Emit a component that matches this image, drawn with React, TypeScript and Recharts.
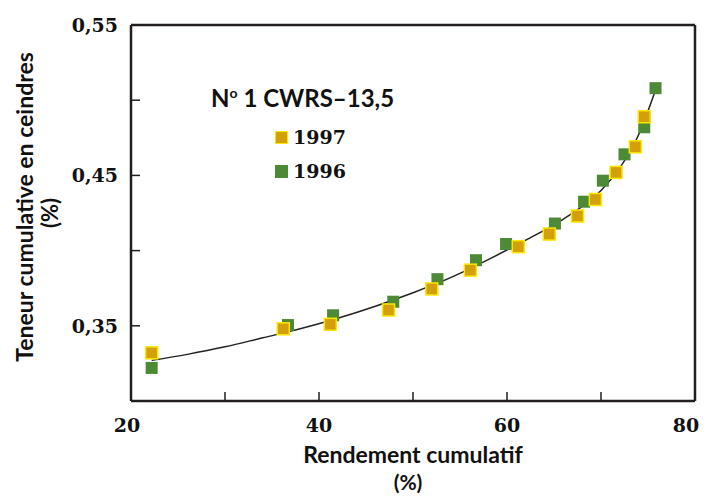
import React from 'react';
import {
  ComposedChart,
  Scatter,
  Line,
  XAxis,
  YAxis,
  Legend,
  Label,
  ReferenceLine
} from 'recharts';

// Rendement cumulatif (%) / teneur cumulative en cendres (%)
const rendement1997 = [22.2, 36.2, 41.2, 47.4, 52.0, 56.1, 61.2, 64.5, 67.5, 69.4, 71.6, 73.65, 74.6];
const teneur1997 = [0.332, 0.348, 0.351, 0.3605, 0.3745, 0.387, 0.4026, 0.411, 0.423, 0.434, 0.452, 0.469, 0.489];

const rendement1996 = [22.2, 36.7, 41.5, 47.9, 52.6, 56.7, 59.9, 65.1, 68.2, 70.2, 72.5, 74.6, 75.8];
const teneur1996 = [0.322, 0.3505, 0.357, 0.366, 0.381, 0.3936, 0.4044, 0.418, 0.4325, 0.4465, 0.464, 0.482, 0.508];

// fitted curve
const curveRendement = [22.2, 26, 30, 34, 38, 42, 46, 50, 54, 58, 62, 66, 70, 72, 74, 75.7];
const curveTeneur = [0.327, 0.331, 0.336, 0.342, 0.348, 0.355, 0.363, 0.372, 0.382, 0.394, 0.407, 0.421, 0.44, 0.455, 0.477, 0.505];

const xTicks = [20, 30, 40, 50, 60, 70, 80];
const xTickLabels = ['20', '', '40', '', '60', '', '80'];
const yTicks = [0.35, 0.4, 0.45, 0.5, 0.55];
const yTickLabels = ['0,35', '', '0,45', '', '0,55'];

const seriesNames = ['1997', '1996'];
const legendTitle = 'CWRS–13,5';

const ORANGE = '#d39f0b';
const ORANGE_EDGE = '#fde600';
const GREEN = '#4d8a35';
const INK = '#231f20';

const toPoints = (xs: number[], ys: number[]) => xs.map((x, i) => ({ x, y: ys[i] }));

const data1997 = toPoints(rendement1997, teneur1997);
const data1996 = toPoints(rendement1996, teneur1996);
const curveData = toPoints(curveRendement, curveTeneur);

const numFont = '"DejaVu Serif", serif';
const titleFont = 'Lato, "Open Sans", sans-serif';

const Square = (fill: string, stroke: string) => (props: any) => {
  const { cx, cy } = props;
  const s = 12;
  return (
    <rect
      x={cx - s / 2}
      y={cy - s / 2}
      width={s}
      height={s}
      fill={fill}
      stroke={stroke}
      strokeWidth={stroke === 'none' ? 0 : 1.5}
    />
  );
};

const XTick = (props: any) => {
  const { x, y, payload, index } = props;
  const label = xTickLabels[index] ?? '';
  // keep the last label inside the page
  const shift = payload.value === 80 ? -9 : payload.value === 20 ? -4 : 0;
  return (
    <g>
      <line x1={x} y1={y} x2={x} y2={y - 9} stroke={INK} strokeWidth={1.5} />
      {label && (
        <text x={x + shift} y={y + 31} textAnchor="middle" fontFamily={numFont} fontWeight="bold" fontSize={19} fill="#111">
          {label}
        </text>
      )}
    </g>
  );
};

const YTick = (props: any) => {
  const { x, y, index } = props;
  const label = yTickLabels[index] ?? '';
  return (
    <g>
      <line x1={x} y1={y} x2={x + 9} y2={y} stroke={INK} strokeWidth={1.5} />
      {label && (
        <text x={x - 13} y={y + 7} textAnchor="end" fontFamily={numFont} fontWeight="bold" fontSize={19} fill="#111">
          {label}
        </text>
      )}
    </g>
  );
};

const XTitle = (props: any) => {
  const { viewBox } = props;
  const cx = viewBox.x + viewBox.width / 2;
  return (
    <g fontFamily={titleFont} fontWeight="bold" fill="#111" textAnchor="middle">
      <text x={cx} y={viewBox.y + 62} fontSize={23}>Rendement cumulatif</text>
      <text x={cx - 5} y={viewBox.y + 89} fontSize={21}>(%)</text>
    </g>
  );
};

const YTitle = (props: any) => {
  const { viewBox } = props;
  const cy = viewBox.y + viewBox.height / 2;
  return (
    <g fontFamily={titleFont} fontWeight="bold" fill="#111" textAnchor="middle">
      <text x={33} y={cy - 6} fontSize={23} transform={`rotate(-90 33 ${cy - 6})`}>Teneur cumulative en ceindres</text>
      <text x={58} y={cy} fontSize={22} transform={`rotate(-90 58 ${cy})`}>(%)</text>
    </g>
  );
};

const LegendBox = () => {
  const colors = [[ORANGE, ORANGE_EDGE], [GREEN, GREEN]];
  return (
    <div style={{ fontWeight: 'bold', color: '#111' }}>
      <div style={{ fontFamily: titleFont, fontSize: 24, lineHeight: '28px', whiteSpace: 'nowrap' }}>
        N<sup style={{ fontSize: 14, verticalAlign: 'top', lineHeight: '18px' }}>o</sup> 1 {legendTitle}
      </div>
      {seriesNames.map((name, i) => (
        <div key={name} style={{ display: 'flex', alignItems: 'center', marginLeft: 64, marginTop: i === 0 ? 11 : 6, height: 28 }}>
          <span
            style={{
              display: 'inline-block',
              width: 11,
              height: 11,
              background: colors[i][0],
              border: `1.5px solid ${colors[i][1]}`,
              marginRight: 5
            }}
          />
          <span style={{ fontFamily: numFont, fontSize: 19 }}>{name}</span>
        </div>
      ))}
    </div>
  );
};

const App = () => {
  return (
    <div style={{ position: 'absolute', left: 0, top: 0, width: 705, height: 501, background: '#fff' }}>
      <ComposedChart width={705} height={501} margin={{ top: 25, right: 10, bottom: 0, left: 0 }}>
        <XAxis
          dataKey="x"
          type="number"
          domain={[20, 80]}
          ticks={xTicks}
          interval={0}
          tickSize={0}
          tickMargin={0}
          tickLine={false}
          tick={<XTick />}
          height={100}
          axisLine={{ stroke: INK, strokeWidth: 2.5 }}
          allowDataOverflow
        >
          <Label content={<XTitle />} />
        </XAxis>
        <YAxis
          dataKey="y"
          type="number"
          domain={[0.3, 0.55]}
          ticks={yTicks}
          interval={0}
          tickSize={0}
          tickMargin={0}
          tickLine={false}
          tick={<YTick />}
          width={131}
          axisLine={{ stroke: INK, strokeWidth: 2.5 }}
          allowDataOverflow
        >
          <Label content={<YTitle />} />
        </YAxis>
        <ReferenceLine y={0.55} stroke={INK} strokeWidth={2.5} />
        <ReferenceLine x={80} stroke={INK} strokeWidth={2.5} />
        <Line
          data={curveData}
          dataKey="y"
          type="monotone"
          stroke="#222"
          strokeWidth={1.5}
          dot={false}
          activeDot={false}
          isAnimationActive={false}
          legendType="none"
        />
        <Scatter name="1996" data={data1996} fill={GREEN} shape={Square(GREEN, 'none')} isAnimationActive={false} />
        <Scatter name="1997" data={data1997} fill={ORANGE} shape={Square(ORANGE, ORANGE_EDGE)} isAnimationActive={false} />
        <Legend
          layout="horizontal"
          verticalAlign="middle"
          align="center"
          content={<LegendBox />}
          wrapperStyle={{ position: 'absolute', left: 211, top: 84, width: 'auto', height: 'auto' }}
        />
      </ComposedChart>
    </div>
  );
};

export default App;
